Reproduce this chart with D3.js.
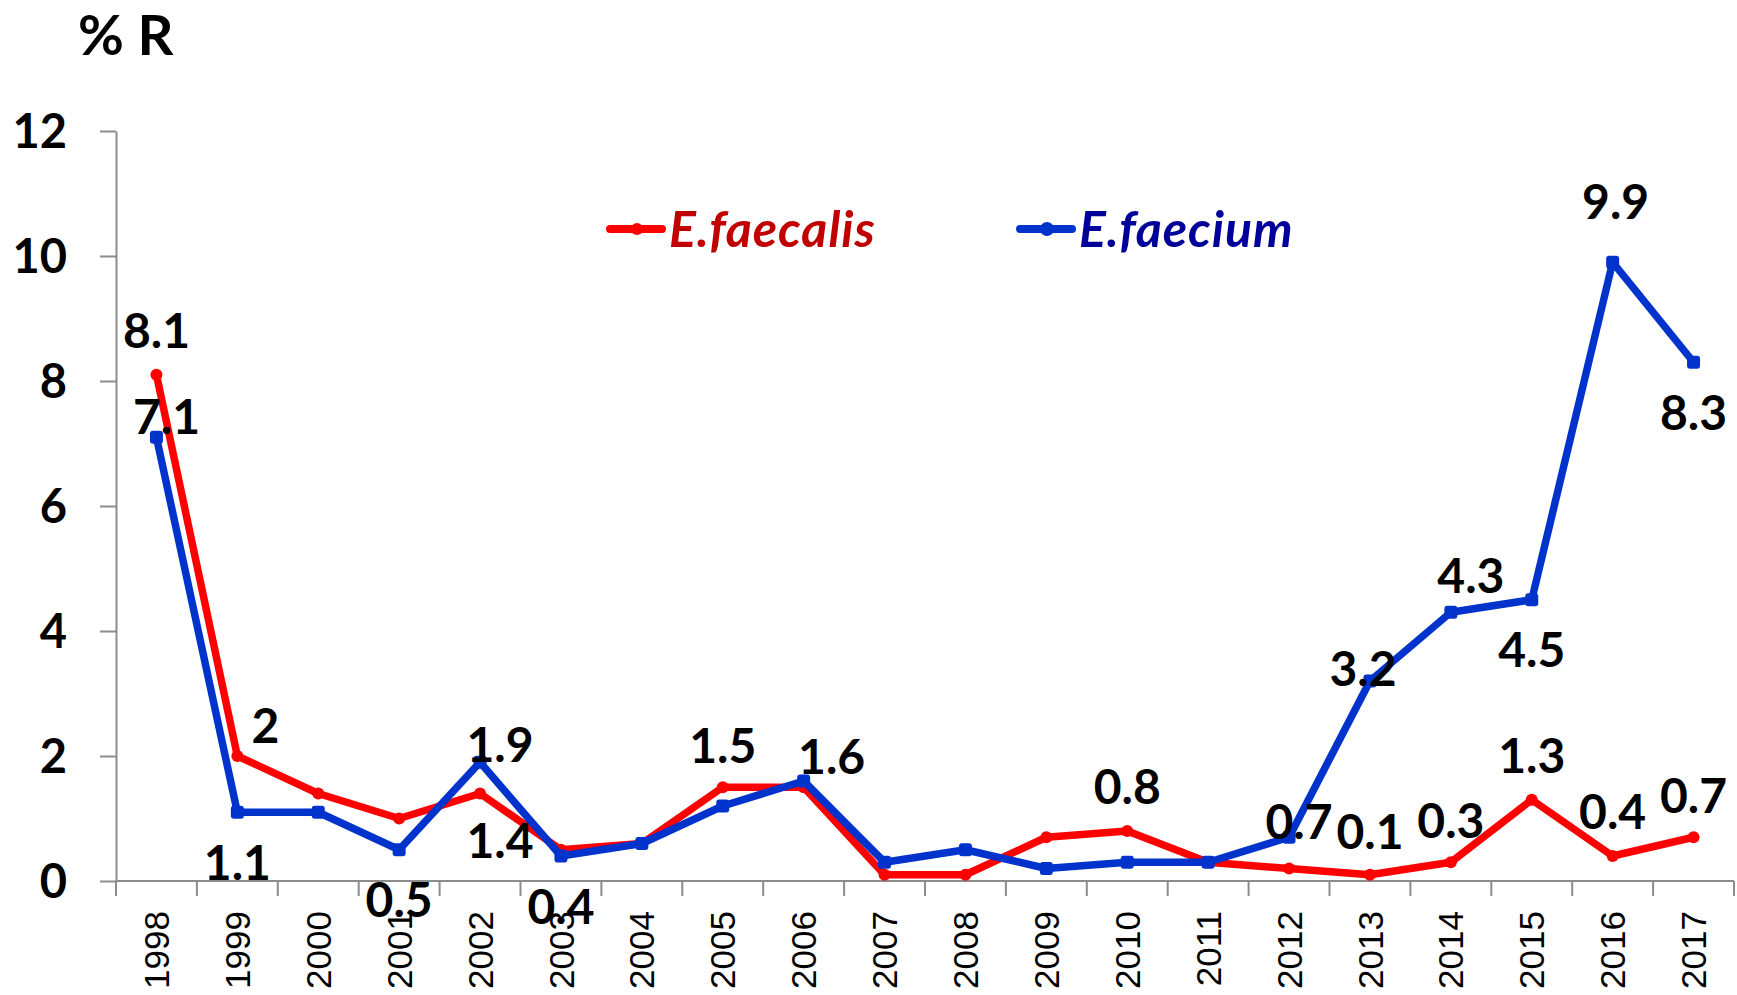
<!DOCTYPE html>
<html>
<head>
<meta charset="utf-8">
<script src="https://cdn.jsdelivr.net/npm/d3@7"></script>
<style>
  body { margin: 0; background: #fff; }
  svg { display: block; }
  .axis path, .axis line { stroke: #8c8c8c; stroke-width: 2px; }
  .axis--y text { font-family: Lato, "Open Sans", sans-serif; font-weight: bold; font-size: 47px; fill: #000; }
  .axis--x text { font-family: "Liberation Sans", Arial, sans-serif; font-size: 35px; fill: #000; }
  .lbl { font-family: Lato, "Open Sans", sans-serif; font-weight: bold; font-size: 48px; fill: #000; }
</style>
</head>
<body>
<div id="chart"></div>
<script>
// Chart data
var years = ["1998","1999","2000","2001","2002","2003","2004","2005","2006","2007",
             "2008","2009","2010","2011","2012","2013","2014","2015","2016","2017"];
var faecalis = [8.1, 2, 1.4, 1.0, 1.4, 0.5, 0.6, 1.5, 1.5, 0.1,
                0.1, 0.7, 0.8, 0.3, 0.2, 0.1, 0.3, 1.3, 0.4, 0.7];
var faecium  = [7.1, 1.1, 1.1, 0.5, 1.9, 0.4, 0.6, 1.2, 1.6, 0.3,
                0.5, 0.2, 0.3, 0.3, 0.7, 3.2, 4.3, 4.5, 9.9, 8.3];
var yTicks = [0, 2, 4, 6, 8, 10, 12];

// Which points carry a value label, and where it sits (dx, dy from the point)
var faecalisLabels = [[0,-44],[28,-30],null,null,[20,47],null,null,[0,-42],null,null,
                      null,null,[0,-44],null,null,[0,-43],[0,-42],[0,-44],[0,-44],[0,-42]];
var faeciumLabels  = [[10,-21],[0,50],null,[0,50],[20,-18],[0,51],null,null,[28,-24],null,
                      null,null,null,null,[10,-16],[-7,-12],[20,-37],[0,50],[3,-61],[0,50]];

var W = 1737, H = 995;
var margin = {top: 131, right: 3, bottom: 114, left: 116};
var width = W - margin.left - margin.right,
    height = H - margin.top - margin.bottom;

var svg = d3.select("#chart").append("svg")
    .attr("width", W)
    .attr("height", H);

var g = svg.append("g")
    .attr("transform", "translate(" + margin.left + "," + margin.top + ")");

// Scales
var x = d3.scaleBand().domain(years).range([0, width]);
var y = d3.scaleLinear().domain([0, 12]).range([height, 0]);
var cx = function(i) { return x(years[i]) + x.bandwidth() / 2; };

// Y axis
var yAxis = g.append("g")
    .attr("class", "axis axis--y")
    .call(d3.axisLeft(y).tickValues(yTicks).tickSize(16).tickPadding(33).tickSizeOuter(0));
yAxis.selectAll("text").attr("dy", "0.36em");

// X axis: ticks sit between the categories
var xAxis = g.append("g")
    .attr("class", "axis axis--x")
    .attr("transform", "translate(0," + height + ")");
xAxis.append("line")
    .attr("x1", 0).attr("x2", width);
xAxis.selectAll(".tk")
    .data(d3.range(years.length + 1))
  .enter().append("line")
    .attr("class", "tk")
    .attr("x1", function(i) { return i * x.step(); })
    .attr("x2", function(i) { return i * x.step(); })
    .attr("y1", 0).attr("y2", 15);
xAxis.selectAll("text")
    .data(years)
  .enter().append("text")
    .attr("text-anchor", "end")
    .attr("transform", function(d) {
      return "translate(" + (x(d) + x.bandwidth() / 2) + ",30) rotate(-90)";
    })
    .attr("dy", "0.36em")
    .text(function(d) { return d; });

// Y axis title
svg.append("text")
    .attr("x", 78).attr("y", 55)
    .attr("font-family", "Lato, 'Open Sans', sans-serif")
    .attr("font-weight", "bold")
    .attr("font-size", 56)
    .text("% R");

var line = function(vals) {
  return d3.line()
    .x(function(d, i) { return cx(i); })
    .y(function(d) { return y(d); })(vals);
};

// E.faecalis (red)
g.append("path")
    .attr("d", line(faecalis))
    .attr("fill", "none")
    .attr("stroke", "#ff0000")
    .attr("stroke-width", 7.5)
    .attr("stroke-linejoin", "round");
g.selectAll(".dot-red")
    .data(faecalis)
  .enter().append("circle")
    .attr("class", "dot-red")
    .attr("r", 6)
    .attr("fill", "#ff0000")
    .attr("cx", function(d, i) { return cx(i); })
    .attr("cy", function(d) { return y(d); });

// E.faecium (blue)
g.append("path")
    .attr("d", line(faecium))
    .attr("fill", "none")
    .attr("stroke", "#0033cc")
    .attr("stroke-width", 7.5)
    .attr("stroke-linejoin", "round");
g.selectAll(".dot-blue")
    .data(faecium)
  .enter().append("rect")
    .attr("class", "dot-blue")
    .attr("width", 13).attr("height", 13)
    .attr("rx", 3)
    .attr("fill", "#0033cc")
    .attr("x", function(d, i) { return cx(i) - 6.5; })
    .attr("y", function(d) { return y(d) - 6.5; });

// Value labels
function addLabels(vals, places) {
  g.append("g").selectAll("text")
      .data(vals.map(function(v, i) { return {v: v, i: i, p: places[i]}; })
                .filter(function(d) { return d.p; }))
    .enter().append("text")
      .attr("class", "lbl")
      .attr("text-anchor", "middle")
      .attr("dy", "0.36em")
      .attr("x", function(d) { return cx(d.i) + d.p[0]; })
      .attr("y", function(d) { return y(d.v) + d.p[1]; })
      .text(function(d) { return d.v; });
}
addLabels(faecalis, faecalisLabels);
addLabels(faecium, faeciumLabels);

// Legend
var legend = [
  {name: "E.faecalis", line: "#ff0000", text: "#c00000", x: 610, square: false},
  {name: "E.faecium", line: "#0033cc", text: "#000099", x: 1020, square: true}
];
var lg = svg.append("g").selectAll("g")
    .data(legend)
  .enter().append("g")
    .attr("transform", function(d) { return "translate(" + d.x + ",229)"; });
lg.append("line")
    .attr("x1", 0).attr("x2", 52)
    .attr("stroke", function(d) { return d.line; })
    .attr("stroke-width", 8)
    .attr("stroke-linecap", "round");
lg.append("circle")
    .attr("cx", 27).attr("r", function(d) { return d.square ? 7 : 6; })
    .attr("fill", function(d) { return d.line; });
lg.append("text")
    .attr("x", 59)
    .attr("dy", "0.36em")
    .attr("font-family", "Lato, 'Open Sans', sans-serif")
    .attr("font-weight", "bold")
    .attr("font-style", "italic")
    .attr("font-size", 50)
    .attr("letter-spacing", 1)
    .attr("fill", function(d) { return d.text; })
    .text(function(d) { return d.name; });
</script>
</body>
</html>
